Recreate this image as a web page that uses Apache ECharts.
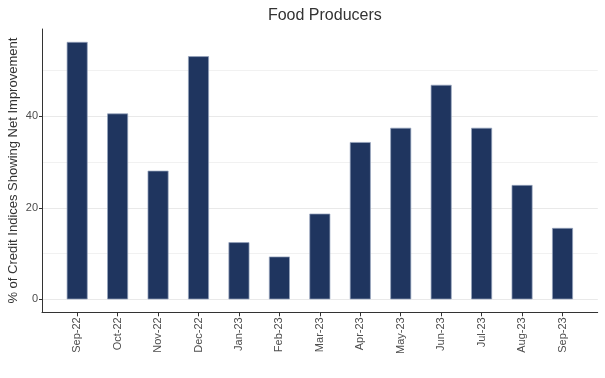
<!DOCTYPE html>
<html>
<head>
<meta charset="utf-8">
<script src="https://cdn.jsdelivr.net/npm/echarts@6/dist/echarts.min.js"></script>
<style>
html,body{margin:0;padding:0;background:#fff;}
#chart{width:605px;height:378px;}
</style>
</head>
<body>
<div id="chart"></div>
<script>
// ---- data ----
var categories = ['Sep-22','Oct-22','Nov-22','Dec-22','Jan-23','Feb-23','Mar-23','Apr-23','May-23','Jun-23','Jul-23','Aug-23','Sep-23'];
var values = [56.25, 40.625, 28.125, 53.125, 12.5, 9.375, 18.75, 34.375, 37.5, 46.875, 37.5, 25, 15.625];
var yTickLabels = [0, 20, 40];
var title = 'Food Producers';
var yName = '% of Credit Indices Showing Net Improvement';

// ---- layout ----
var W = 605, H = 378;
var gLeft = 42, gRight = 7.3, gTop = 29, gBottom = 65.7;
var dataMax = Math.max.apply(null, values);
var yMin = -0.05 * dataMax, yMax = dataMax * 1.05;
var xPad = 0.87;
var xMin = -xPad, xMax = categories.length - 1 + xPad;
var plotH = H - gTop - gBottom;
var zeroBottom = gBottom + (0 - yMin) / (yMax - yMin) * plotH;

var idx = categories.map(function (c, i) { return i; });
var barData = values.map(function (v, i) { return [i, v]; });

var font = '"Liberation Sans", Arial, sans-serif';
var axisDark = '#333333';
var labelGray = '#4d4d4d';

var chart = echarts.init(document.getElementById('chart'), null, {renderer: 'canvas'});
chart.setOption({
  animation: false,
  backgroundColor: '#ffffff',
  title: {
    text: title, left: (gLeft + (W - gRight)) / 2, textAlign: 'center', top: 3,
    textStyle: {fontFamily: font, fontSize: 16, fontWeight: 'normal', color: '#333333'}
  },
  grid: [
    {left: gLeft, right: gRight, top: gTop, bottom: gBottom, containLabel: false, outerBoundsMode: 'none'},
    {left: gLeft, right: gRight, top: gTop, bottom: zeroBottom, containLabel: false, outerBoundsMode: 'none'}
  ],
  xAxis: [
    {
      type: 'value', gridIndex: 0, min: xMin, max: xMax, position: 'bottom',
      axisLine: {show: true, onZero: false, lineStyle: {color: axisDark, width: 1}},
      axisTick: {show: true, customValues: idx, length: 4, lineStyle: {color: axisDark}},
      axisLabel: {
        show: true, customValues: idx, rotate: 90, margin: 5,
        fontFamily: font, fontSize: 11, color: labelGray,
        formatter: function (v) { return categories[Math.round(v)]; }
      },
      splitLine: {show: false}
    },
    {
      type: 'value', gridIndex: 1, min: xMin, max: xMax, show: false,
      axisLine: {onZero: false},
      splitLine: {show: false}
    }
  ],
  yAxis: [
    {
      type: 'value', gridIndex: 0, min: yMin, max: yMax, position: 'left',
      name: yName, nameLocation: 'middle', nameRotate: 90, nameGap: 22, nameMoveOverlap: false,
      nameTextStyle: {fontFamily: font, fontSize: 13, color: '#333333'},
      axisLine: {show: true, onZero: false, lineStyle: {color: axisDark, width: 1}},
      axisTick: {show: true, customValues: yTickLabels, length: 3, lineStyle: {color: axisDark}},
      axisLabel: {show: true, customValues: yTickLabels, margin: 4, fontFamily: font, fontSize: 11, color: labelGray},
      splitLine: {show: false}
    },
    {
      type: 'value', gridIndex: 1, min: 0, max: yMax, interval: 10,
      axisLine: {show: false, onZero: false}, axisTick: {show: false}, axisLabel: {show: false},
      splitLine: {show: true, showMaxLine: false, lineStyle: {color: '#f1f1f1', width: 1}}
    },
    {
      type: 'value', gridIndex: 1, min: 0, max: yMax, interval: 20,
      axisLine: {show: false, onZero: false}, axisTick: {show: false}, axisLabel: {show: false},
      splitLine: {show: true, showMaxLine: false, lineStyle: {color: '#e9e9e9', width: 1}}
    }
  ],
  series: [{
    type: 'bar', xAxisIndex: 0, yAxisIndex: 0,
    data: barData, barWidth: 21,
    itemStyle: {color: '#1f355f', borderColor: 'rgba(150,165,190,0.9)', borderWidth: 0.8},
    z: 5
  }]
});
</script>
</body>
</html>
